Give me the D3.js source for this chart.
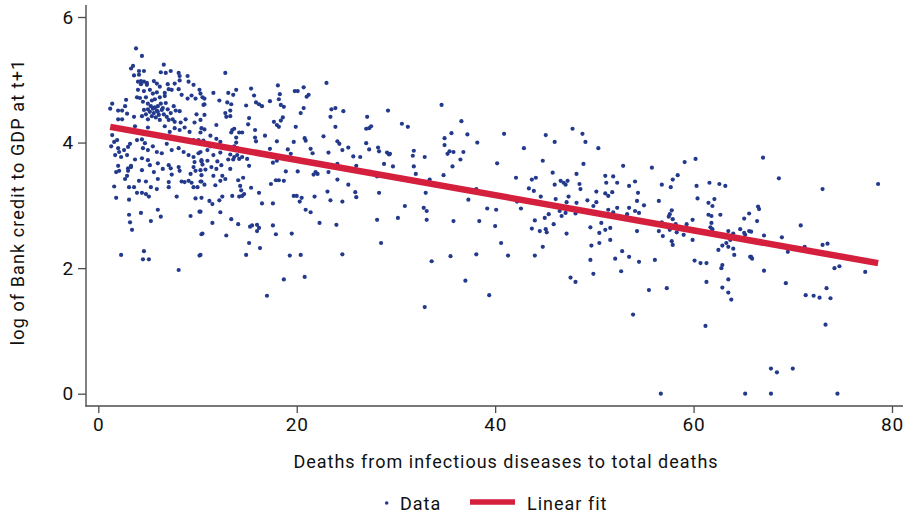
<!DOCTYPE html>
<html>
<head>
<meta charset="utf-8">
<script src="https://cdn.jsdelivr.net/npm/d3@7"></script>
<style>
  html, body { margin: 0; padding: 0; background: #fff; }
  svg { display: block; font-family: "Roboto", "Liberation Sans", sans-serif; }
</style>
</head>
<body>
<svg id="chart" width="909" height="516"></svg>
<script>
// Share of deaths from infectious diseases (%) vs. log of bank credit to GDP at t+1
const observations = [
  // low-share cluster (0-10)
  [3.8,5.50],[4.4,5.38],[3.5,5.22],[6.6,5.24],[6.3,5.12],[6.8,5.11],[7.3,5.14],[8.1,5.11],[4.1,5.14],[4.6,5.14],
  [3.3,5.18],[3.6,5.07],[4.1,5.08],[8.2,5.06],[9.0,5.06],[4.3,4.98],[4.6,4.97],[4.0,4.97],[4.9,4.95],[5.6,4.98],
  [5.9,4.94],[4.9,4.92],[4.3,4.93],[6.2,4.89],[7.0,4.93],[7.7,4.94],[8.2,4.99],[9.1,4.97],[9.6,4.92],[10.2,4.84],
  [4.0,4.84],[4.6,4.82],[5.2,4.84],[5.5,4.78],[5.9,4.80],[6.7,4.79],[7.1,4.85],[7.4,4.84],[8.1,4.85],[8.4,4.76],
  [9.4,4.75],[9.0,4.70],[9.8,4.70],[10.5,4.72],[10.6,4.60],[3.9,4.72],[4.2,4.71],[4.8,4.72],[4.5,4.65],[5.0,4.62],
  [5.4,4.67],[5.7,4.69],[6.2,4.72],[6.7,4.74],[6.0,4.58],[5.5,4.54],[5.0,4.53],[4.6,4.52],[5.2,4.49],[5.9,4.51],
  [6.4,4.52],[6.6,4.45],[7.0,4.53],[7.3,4.47],[7.8,4.51],[8.2,4.50],[7.5,4.37],[7.7,4.33],[7.1,4.36],[5.0,4.37],
  [4.4,4.42],[3.6,4.41],[2.9,4.46],[2.7,4.58],[2.4,4.51],[2.0,4.51],[1.4,4.62],[1.2,4.54],[2.8,4.68],[2.4,4.37],
  [2.0,4.37],[3.7,4.26],[5.0,4.24],[5.2,4.15],[5.9,4.12],[6.7,4.26],[7.2,4.17],[7.7,4.23],[8.2,4.20],[8.7,4.24],
  [9.2,4.17],[9.7,4.32],[9.9,4.45],[8.8,4.37],[8.3,4.32],[1.4,4.12],[1.6,4.01],[1.3,3.94],[1.9,4.04],[2.0,3.91],
  [2.1,3.85],[2.6,3.88],[2.9,3.80],[2.3,3.77],[1.7,3.80],[3.0,3.93],[3.2,3.98],[3.9,4.04],[4.4,4.05],[4.7,3.99],
  [4.5,3.91],[5.0,3.88],[5.5,3.94],[5.9,3.85],[6.4,3.83],[6.9,3.98],[7.4,3.88],[8.1,3.91],[8.6,3.85],[9.1,3.80],
  [9.6,3.77],[10.1,3.83],[10.1,4.04],[9.6,4.04],[3.7,3.73],[4.4,3.75],[5.0,3.72],[3.3,3.63],[5.2,3.64],[6.0,3.67],
  [7.1,3.64],[8.1,3.61],[9.7,3.69],[10.4,3.72],
  [5.3,4.58],[5.6,4.47],[6.1,4.44],[6.3,4.62],[5.8,4.40],[6.9,4.41],[6.2,4.36],[5.4,4.42],[6.5,4.55],[4.8,4.45],
  [5.7,4.56],[6.8,4.63],[7.6,4.58],[6.0,4.49],
  [2.0,3.63],[1.8,3.53],[2.1,3.55],[3.0,3.55],[3.0,3.59],[3.3,3.61],[2.9,3.47],[2.7,3.42],[4.4,3.56],[5.6,3.53],
  [6.5,3.58],[7.3,3.59],[7.4,3.49],[8.2,3.55],[9.6,3.61],[9.8,3.55],[10.3,3.56],[9.3,3.50],[1.6,3.30],[3.1,3.29],
  [3.6,3.29],[4.1,3.39],[4.8,3.38],[6.0,3.42],[5.3,3.29],[5.9,3.26],[7.1,3.37],[7.1,3.29],[8.4,3.38],[8.7,3.37],
  [9.1,3.39],[9.4,3.36],[9.6,3.29],[10.0,3.29],[10.4,3.38],[3.9,3.20],[4.4,3.20],[4.8,3.18],[5.1,3.14],[1.8,3.12],
  [3.1,3.09],[7.9,3.14],[9.8,3.11],[6.0,2.93],[4.3,2.88],[6.3,2.82],[3.1,2.85],[3.2,2.73],[5.3,2.75],[9.3,2.83],
  [10.2,2.90],[3.4,2.61],[10.4,2.54],[2.3,2.21],[4.6,2.27],[4.5,2.14],[5.1,2.14],[10.2,2.20],[8.1,1.97],
  // 10-30
  [12.8,5.11],[18.1,4.91],[23.0,4.95],[20.7,4.88],[20.1,4.82],[19.8,4.82],[15.4,4.86],[13.9,4.84],[13.1,4.79],[13.6,4.76],
  [11.6,4.79],[10.3,4.78],[10.7,4.70],[10.7,4.61],[18.3,4.77],[15.7,4.75],[21.2,4.76],[21.0,4.73],[18.2,4.69],[17.3,4.66],
  [12.2,4.67],[13.0,4.64],[13.4,4.61],[14.9,4.59],[15.9,4.64],[16.2,4.61],[16.5,4.58],[18.4,4.60],[18.7,4.57],[20.7,4.55],
  [23.5,4.53],[23.9,4.55],[24.7,4.50],[20.4,4.47],[13.3,4.51],[12.8,4.47],[12.9,4.41],[13.3,4.42],[10.7,4.44],[15.2,4.39],
  [23.4,4.41],[17.7,4.33],[18.6,4.40],[18.4,4.35],[18.0,4.28],[18.2,4.25],[15.1,4.29],[11.9,4.28],[10.3,4.36],[19.9,4.25],
  [23.9,4.25],[10.4,4.23],[10.7,4.21],[13.5,4.20],[13.7,4.22],[14.2,4.16],[14.5,4.16],[13.4,4.16],[15.8,4.20],[10.3,4.16],
  [11.3,4.11],[11.9,4.06],[15.8,4.08],[16.8,4.11],[13.9,4.08],[20.8,4.07],[20.9,4.03],[22.7,4.10],[24.1,4.02],[24.3,3.98],
  [25.2,3.92],[10.6,4.03],[12.3,4.01],[13.9,4.00],[15.9,4.02],[18.0,4.02],[19.7,4.01],[11.3,3.94],[11.0,3.88],[13.7,3.94],
  [14.0,3.91],[17.3,3.90],[15.9,3.85],[19.1,3.89],[19.4,3.82],[21.4,3.90],[21.6,3.83],[23.2,3.84],[10.3,3.85],[11.6,3.80],
  [12.3,3.84],[13.3,3.81],[13.7,3.77],[14.0,3.80],[14.5,3.77],[14.2,3.74],[15.0,3.74],[13.1,3.73],[13.6,3.73],[11.0,3.71],
  [10.4,3.70],[12.0,3.70],[18.0,3.71],[17.6,3.68],[20.1,3.54],[18.9,3.54],[21.9,3.53],[21.7,3.49],[22.1,3.50],[24.1,3.66],
  [23.2,3.53],[24.1,3.41],[25.2,3.33],[10.5,3.65],[11.4,3.61],[11.9,3.58],[10.8,3.57],[12.4,3.64],[13.3,3.58],[15.2,3.63],
  [10.4,3.48],[11.6,3.47],[12.5,3.47],[12.8,3.42],[12.3,3.39],[14.1,3.40],[14.6,3.44],[15.4,3.28],[14.3,3.31],[14.4,3.24],
  [14.7,3.18],[14.5,3.15],[14.2,3.14],[13.5,3.15],[11.8,3.32],[10.7,3.33],[10.3,3.38],[16.2,3.20],[17.4,3.34],[17.9,3.40],
  [18.2,3.40],[18.7,3.39],[19.7,3.15],[20.0,3.15],[20.5,3.12],[20.3,3.06],[20.9,2.93],[21.4,2.89],[21.8,3.14],[23.1,3.22],
  [23.4,3.08],[24.6,3.06],[16.5,3.03],[17.6,3.03],[12.5,3.14],[12.2,3.08],[11.5,3.02],[11.2,3.07],[10.4,3.12],
  [12.3,2.89],[13.4,2.78],
  [10.3,2.90],[11.5,2.72],[14.1,2.70],[15.3,2.66],[15.5,2.68],[16.0,2.69],[16.2,2.64],[16.0,2.59],[17.6,2.68],[17.9,2.54],
  [19.5,2.55],[22.3,2.72],[24.0,2.69],[28.1,2.77],[28.5,2.40],[24.6,2.22],[10.5,2.55],[12.9,2.52],[15.2,2.40],[16.3,2.32],
  [10.3,2.21],[14.9,2.21],[19.3,2.20],[20.4,2.21],[18.7,1.82],[20.8,1.86],[17.0,1.56],
  [29.2,4.51],[27.1,4.41],[27.0,4.22],[27.3,4.23],[27.5,4.26],[24.6,3.88],[27.0,3.99],[27.3,3.89],[28.2,3.92],[28.3,3.86],
  [29.1,3.84],[29.3,3.81],[25.7,3.78],[26.4,3.77],[26.0,3.63],[28.8,3.66],[28.1,3.46],[25.9,3.21],[26.0,3.13],[28.3,3.20],
  // 30-50
  [34.6,4.60],[30.6,4.30],[31.2,4.25],[36.6,4.34],[35.6,4.15],[34.9,4.07],[37.2,4.13],[40.9,4.14],[45.1,4.12],[47.8,4.22],
  [48.8,4.14],[49.1,4.01],[46.0,4.01],[38.2,4.00],[34.9,3.96],[31.8,3.87],[35.4,3.86],[35.2,3.82],[35.8,3.85],[36.8,3.85],
  [31.7,3.79],[32.9,3.77],[29.4,3.82],[42.9,3.91],[50.4,3.91],[36.5,3.73],[44.8,3.71],[40.2,3.67],[29.7,3.62],[31.8,3.62],
  [35.7,3.62],[48.9,3.66],[45.8,3.52],[48.2,3.50],[32.0,3.50],[34.8,3.48],[42.1,3.44],[43.7,3.41],[44.1,3.44],[46.6,3.39],
  [46.9,3.36],[47.3,3.39],[47.1,3.33],[46.0,3.33],[48.5,3.34],[33.4,3.41],[48.6,3.26],[43.4,3.27],[43.9,3.23],[50.2,3.22],
  [33.0,3.20],[38.1,3.26],[44.6,3.14],[47.4,3.14],[46.1,3.10],[37.3,3.09],[47.2,3.05],[48.2,3.04],[49.3,3.08],[50.2,3.05],
  [49.9,2.99],[42.2,3.06],[30.9,2.99],[32.8,2.96],[33.1,2.91],[39.2,2.95],[40.1,2.93],[42.6,2.95],[46.5,2.91],[47.1,2.88],
  [48.1,2.87],[46.7,2.83],[45.4,2.86],[45.0,2.80],[30.2,2.80],[33.1,2.77],[35.8,2.75],[38.4,2.75],[44.0,2.76],[45.9,2.70],
  [40.0,2.67],[49.6,2.65],[43.7,2.63],[44.5,2.59],[45.1,2.62],[45.2,2.57],[47.2,2.55],[50.5,2.56],[40.6,2.40],[50.5,2.40],
  [49.7,2.36],[44.8,2.34],[38.1,2.22],[35.5,2.19],[41.3,2.20],[44.0,2.20],[33.6,2.11],[49.6,2.13],[49.9,1.91],[47.6,1.85],
  [48.1,1.78],[37.0,1.80],[39.4,1.57],[32.9,1.38],
  // 50-65
  [52.9,3.63],[55.8,3.60],[59.1,3.69],[60.2,3.74],[51.1,3.47],[51.9,3.46],[51.2,3.36],[52.3,3.36],[54.1,3.38],[53.5,3.31],
  [58.4,3.48],[57.9,3.41],[56.8,3.33],[57.7,3.29],[60.3,3.31],[61.6,3.36],[62.6,3.34],[63.2,3.31],[51.1,3.19],[51.4,3.15],
  [51.8,3.21],[54.4,3.20],[60.4,3.11],[61.5,3.04],[62.1,3.10],[61.9,2.99],[54.3,3.07],[56.5,3.07],[55.0,3.00],[51.4,2.93],
  [52.3,2.96],[53.5,2.96],[54.1,2.91],[54.5,2.88],[51.9,2.89],[53.3,2.86],[57.8,2.92],[57.6,2.86],[57.5,2.82],[57.9,2.78],
  [61.5,2.85],[61.8,2.83],[62.7,2.85],[59.9,2.77],[61.8,2.72],[61.7,2.65],[61.9,2.62],[65.1,2.79],[65.6,2.87],[50.7,2.72],
  [51.6,2.64],[51.1,2.61],[54.3,2.59],[56.5,2.59],[56.8,2.73],[57.6,2.61],[58.2,2.70],[58.3,2.57],[59.3,2.70],[56.9,2.51],
  [57.8,2.43],[57.9,2.37],[59.0,2.53],[59.9,2.45],[63.5,2.59],[64.0,2.55],[63.7,2.45],[63.3,2.40],[62.9,2.36],[62.5,2.29],
  [63.5,2.34],[64.0,2.31],[64.1,2.21],[64.7,2.62],[65.2,2.53],[65.6,2.59],[51.6,2.45],[52.8,2.27],[52.1,2.15],[53.5,2.18],
  [54.5,2.10],[56.1,2.13],[60.1,2.12],[60.7,2.08],[61.3,2.08],[62.9,2.05],[62.8,2.00],[65.7,2.18],[52.7,1.95],[61.3,1.78],
  [63.5,1.82],[62.9,1.69],[63.5,1.61],[63.8,1.50],[55.5,1.65],[57.3,1.68],[53.9,1.26],[61.2,1.08],[56.7,0.00],
  // 65-80
  [67.0,3.76],[68.6,3.43],[73.0,3.26],[78.6,3.34],[66.5,2.98],[66.6,2.94],[66.4,2.75],[65.1,2.56],[65.8,2.58],[67.1,2.52],
  [68.9,2.49],[70.8,2.68],[71.2,2.34],[69.5,2.26],[73.0,2.37],[73.5,2.39],[65.8,2.18],[65.9,2.15],[67.1,1.96],[74.2,2.00],
  [74.7,2.03],[77.3,1.94],[69.3,1.76],[71.3,1.57],[72.1,1.56],[72.7,1.53],[73.8,1.52],[73.4,1.68],[73.3,1.10],[67.8,0.40],
  [68.4,0.34],[70.0,0.40],[65.2,0.00],[67.8,0.00],[74.5,0.00]
];

// Fitted line endpoints
const fitX = [1.2, 78.6];
const fitY = [4.25, 2.08];

const xTicks = [0, 20, 40, 60, 80];
const yTicks = [0, 2, 4, 6];

const xTitle = "Deaths from infectious diseases to total deaths";
const yTitle = "log of Bank credit to GDP at t+1";
const legendLabels = ["Data", "Linear fit"];

const dotColor = "#233a8c";
const fitColor = "#d41f3d";
const axisColor = "#4d4d4d";

const svg = d3.select("#chart");

const x = d3.scaleLinear().domain([0, 80]).range([98.3, 892]);
const y = d3.scaleLinear().domain([0, 6]).range([393.7, 17]);

const frameLeft = 86, frameBottom = 406, frameTop = 5, frameRight = 903;

// axes
const xAxis = d3.axisBottom(x).tickValues(xTicks).tickFormat(d3.format("d"))
  .tickSize(7).tickSizeOuter(0).tickPadding(5);
const yAxis = d3.axisLeft(y).tickValues(yTicks).tickFormat(d3.format("d"))
  .tickSize(8).tickSizeOuter(0).tickPadding(4);

const gx = svg.append("g").attr("transform", `translate(0,${frameBottom})`).call(xAxis);
const gy = svg.append("g").attr("transform", `translate(${frameLeft},0)`).call(yAxis);

[gx, gy].forEach(g => {
  g.select(".domain").remove();
  g.selectAll(".tick line").attr("stroke", axisColor).attr("stroke-width", 1.3);
  g.selectAll(".tick text").attr("fill", "#111").style("font-size", "19px")
    .style("font-family", "Roboto, sans-serif").style("letter-spacing", "0.8px");
});

svg.append("line")
  .attr("x1", frameLeft).attr("x2", frameLeft)
  .attr("y1", frameTop).attr("y2", frameBottom + 0.6)
  .attr("stroke", axisColor).attr("stroke-width", 1.4);
svg.append("line")
  .attr("x1", frameLeft - 0.6).attr("x2", frameRight)
  .attr("y1", frameBottom).attr("y2", frameBottom)
  .attr("stroke", axisColor).attr("stroke-width", 1.4);

// scatter
svg.append("g").selectAll("circle")
  .data(observations)
  .join("circle")
  .attr("cx", d => x(d[0]))
  .attr("cy", d => y(d[1]))
  .attr("r", 2.1)
  .attr("fill", dotColor);

// fitted line
svg.append("line")
  .attr("x1", x(fitX[0])).attr("y1", y(fitY[0]))
  .attr("x2", x(fitX[1])).attr("y2", y(fitY[1]))
  .attr("stroke", fitColor).attr("stroke-width", 6.5);

// axis titles
svg.append("text")
  .attr("x", 506).attr("y", 468)
  .attr("text-anchor", "middle")
  .style("font-size", "18px").style("letter-spacing", "1px").attr("fill", "#111")
  .text(xTitle);

svg.append("text")
  .attr("transform", "translate(24,202) rotate(-90)")
  .attr("text-anchor", "middle")
  .style("font-size", "18px").style("letter-spacing", "1.1px").attr("fill", "#111")
  .text(yTitle);

// legend
const lg = svg.append("g").style("font-size", "18px").style("letter-spacing", "1px");
lg.append("circle").attr("cx", 386.7).attr("cy", 503).attr("r", 1.8).attr("fill", dotColor);
lg.append("text").attr("x", 400).attr("y", 510).attr("fill", "#111").text(legendLabels[0]);
lg.append("line").attr("x1", 470).attr("x2", 515).attr("y1", 502).attr("y2", 502)
  .attr("stroke", fitColor).attr("stroke-width", 5.5);
lg.append("text").attr("x", 527).attr("y", 510).attr("fill", "#111").text(legendLabels[1]);
</script>
</body>
</html>
